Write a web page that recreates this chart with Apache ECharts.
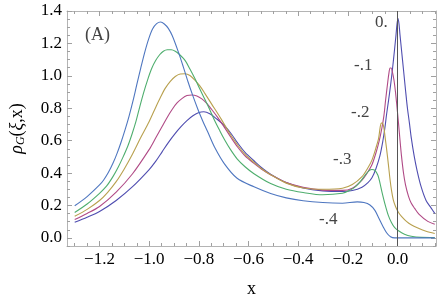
<!DOCTYPE html>
<html><head><meta charset="utf-8">
<script src="https://cdn.jsdelivr.net/npm/echarts@6/dist/echarts.min.js"></script>
<style>html,body{margin:0;padding:0;background:#fff}#c{width:443px;height:303px}</style>
</head><body><div id="c"></div>
<script>
// ---- data ----
const seriesNames = ['0.', '-.1', '-.2', '-.3', '-.4'];

// xi = 0
const x0 = [-1.30,-1.25,-1.20,-1.133,-1.067,-1.001,-0.974,-0.948,-0.923,-0.895,-0.871,-0.848,-0.824,-0.802,-0.780,-0.756,-0.729,-0.697,-0.669,-0.644,-0.614,-0.578,-0.547,-0.511,-0.448,-0.380,-0.301,-0.222,-0.182,-0.143,-0.119,-0.103,-0.087,-0.071,-0.059,-0.051,-0.044,-0.036,-0.028,-0.020,-0.012,-0.006,-0.002,0.002,0.006,0.010,0.016,0.024,0.032,0.040,0.048,0.055,0.067,0.079,0.095,0.115,0.135,0.15];
const y0 = [0.096,0.127,0.163,0.231,0.316,0.420,0.472,0.531,0.588,0.645,0.688,0.724,0.754,0.772,0.778,0.766,0.735,0.692,0.641,0.586,0.528,0.476,0.433,0.393,0.341,0.308,0.290,0.286,0.292,0.313,0.341,0.371,0.427,0.506,0.598,0.677,0.763,0.849,0.941,1.045,1.161,1.253,1.320,1.354,1.320,1.253,1.161,1.039,0.916,0.800,0.708,0.622,0.506,0.414,0.316,0.231,0.185,0.151];

// xi = -0.1
const x1 = [-1.30,-1.25,-1.20,-1.133,-1.067,-1.001,-0.974,-0.948,-0.927,-0.907,-0.887,-0.867,-0.848,-0.828,-0.808,-0.788,-0.768,-0.749,-0.725,-0.697,-0.669,-0.644,-0.614,-0.578,-0.547,-0.511,-0.448,-0.380,-0.301,-0.222,-0.182,-0.143,-0.119,-0.103,-0.087,-0.073,-0.063,-0.055,-0.048,-0.040,-0.034,-0.030,-0.026,-0.020,-0.014,-0.008,-0.002,0.004,0.010,0.016,0.024,0.032,0.044,0.055,0.069,0.087,0.122,0.15];
const y1 = [0.113,0.151,0.194,0.283,0.396,0.543,0.616,0.687,0.745,0.794,0.834,0.861,0.878,0.882,0.876,0.858,0.830,0.794,0.745,0.682,0.616,0.561,0.506,0.460,0.424,0.390,0.341,0.312,0.295,0.293,0.307,0.357,0.408,0.451,0.524,0.604,0.677,0.751,0.849,0.953,1.023,1.048,1.048,1.020,0.971,0.898,0.806,0.708,0.604,0.506,0.402,0.329,0.258,0.215,0.182,0.145,0.102,0.084];

// xi = -0.2
const x2 = [-1.30,-1.25,-1.20,-1.168,-1.133,-1.101,-1.067,-1.034,-1.001,-0.974,-0.954,-0.935,-0.915,-0.895,-0.875,-0.855,-0.836,-0.816,-0.796,-0.776,-0.749,-0.710,-0.677,-0.644,-0.614,-0.578,-0.547,-0.511,-0.448,-0.380,-0.301,-0.222,-0.182,-0.143,-0.119,-0.103,-0.087,-0.076,-0.070,-0.065,-0.061,-0.055,-0.050,-0.044,-0.037,-0.030,-0.024,-0.017,-0.008,0.004,0.016,0.036,0.055,0.082,0.115,0.15];
const y2 = [0.133,0.176,0.231,0.280,0.347,0.424,0.518,0.619,0.715,0.805,0.869,0.924,0.966,0.996,1.011,1.013,1.002,0.974,0.938,0.892,0.827,0.733,0.647,0.573,0.515,0.466,0.427,0.390,0.338,0.308,0.300,0.306,0.329,0.378,0.433,0.480,0.555,0.616,0.681,0.708,0.708,0.681,0.622,0.549,0.457,0.359,0.292,0.235,0.194,0.157,0.133,0.102,0.081,0.061,0.041,0.027];

// xi = -0.3
const x3 = [-1.30,-1.25,-1.20,-1.172,-1.146,-1.125,-1.105,-1.086,-1.069,-1.053,-1.038,-1.022,-1.006,-0.990,-0.974,-0.958,-0.943,-0.927,-0.911,-0.895,-0.879,-0.855,-0.836,-0.816,-0.796,-0.776,-0.756,-0.737,-0.717,-0.697,-0.673,-0.646,-0.614,-0.578,-0.511,-0.448,-0.380,-0.301,-0.222,-0.194,-0.169,-0.150,-0.130,-0.115,-0.103,-0.091,-0.079,-0.071,-0.063,-0.051,-0.037,-0.024,-0.012,0.004,0.028,0.055,0.095,0.15];
const y3 = [0.157,0.209,0.275,0.319,0.378,0.436,0.500,0.567,0.641,0.720,0.809,0.898,0.977,1.045,1.094,1.130,1.152,1.161,1.161,1.152,1.133,1.094,1.042,0.983,0.919,0.855,0.791,0.726,0.665,0.607,0.546,0.488,0.439,0.396,0.335,0.300,0.280,0.266,0.275,0.292,0.316,0.347,0.388,0.414,0.422,0.417,0.387,0.341,0.286,0.212,0.139,0.093,0.065,0.044,0.023,0.010,0.003,0.002];

// xi = -0.4
const x4 = [-1.30,-1.25,-1.20,-1.184,-1.164,-1.146,-1.129,-1.113,-1.097,-1.081,-1.065,-1.050,-1.034,-1.018,-1.002,-0.986,-0.970,-0.954,-0.939,-0.923,-0.907,-0.883,-0.863,-0.844,-0.824,-0.804,-0.784,-0.764,-0.737,-0.697,-0.646,-0.578,-0.511,-0.448,-0.380,-0.301,-0.222,-0.162,-0.135,-0.111,-0.091,-0.075,-0.059,-0.044,-0.028,-0.012,0.05,0.15];
const y4 = [0.198,0.255,0.327,0.356,0.405,0.460,0.523,0.592,0.668,0.752,0.847,0.945,1.048,1.145,1.228,1.290,1.322,1.332,1.320,1.293,1.247,1.149,1.057,0.965,0.876,0.794,0.720,0.653,0.561,0.457,0.368,0.315,0.274,0.247,0.229,0.218,0.214,0.222,0.218,0.203,0.170,0.121,0.072,0.032,0.007,0.0,0.0,0.0];

const xTicks = [-1.2,-1.0,-0.8,-0.6,-0.4,-0.2,0.0];
const yTicks = [0.0,0.2,0.4,0.6,0.8,1.0,1.2,1.4];

// ---- presentation ----
const XMIN = -1.331, XMAX = 0.155, YMIN = -0.05, YMAX = 1.4;
const colors = ['#4f4db0','#b04a86','#b8a04e','#4fae6e','#4f77c0'];
const xs = [x0,x1,x2,x3,x4], ys = [y0,y1,y2,y3,y4];
const FRAME = '#b4b4b4', TICK = '#a0a0a0';
const serif = '"Liberation Serif","Times New Roman",serif';

function minorVals(lo, hi, step){const r=[];for(let k=Math.ceil(lo/step-1e-9);k*step<=hi+1e-9;k++){r.push(+(k*step).toFixed(4));}return r;}
const xMinor = minorVals(XMIN, XMAX, 0.05);
const yMinor = minorVals(YMIN, YMAX, 0.05);
const fmt = v => (v < -1e-9 ? '\u2212' : '') + Math.abs(v).toFixed(1);

function xa(pos, major, labels){
  return {type:'value', min:XMIN, max:XMAX, position:pos,
    axisLine:{show:major, onZero:false, lineStyle:{color:FRAME, width:1}},
    axisTick:{show:true, inside:true, length: major?5:3, customValues: major?xTicks:xMinor, lineStyle:{color:TICK}},
    axisLabel:{show:labels, customValues:xTicks, formatter:fmt, fontFamily:serif, fontSize:17, color:'#000', margin:5},
    splitLine:{show:false},
    name: labels ? 'x' : '', nameLocation:'middle', nameGap:34,
    nameTextStyle:{fontFamily:serif, fontSize:18, color:'#000'}};
}
function ya(pos, major, labels){
  return {type:'value', min:YMIN, max:YMAX, position:pos,
    axisLine:{show:major, onZero:false, lineStyle:{color:FRAME, width:1}},
    axisTick:{show:true, inside:true, length: major?5:3, customValues: major?yTicks:yMinor, lineStyle:{color:TICK}},
    axisLabel:{show:labels, customValues:yTicks, formatter:v=>v.toFixed(1), fontFamily:serif, fontSize:17, color:'#000', margin:5},
    splitLine:{show:false},
    name: labels ? '{i|ρ}{s|G}{n|(}{i|ξ}{n|,x)}' : '', nameLocation:'middle', nameGap:40, nameRotate:90,
    nameTextStyle:{fontFamily:serif, fontSize:18, color:'#000',
      rich:{i:{fontFamily:serif, fontStyle:'italic', fontSize:18, color:'#000'},
            s:{fontFamily:serif, fontStyle:'italic', fontSize:12, color:'#000', verticalAlign:'bottom', padding:[8,0,0,0]},
            n:{fontFamily:serif, fontSize:18, color:'#000'}}}};
}

const series = xs.map((xx, s) => ({
  type:'line', name:seriesNames[s], xAxisIndex:0, yAxisIndex:0,
  data: xx.map((x,i)=>[x, ys[s][i]]),
  showSymbol:false, smooth:0.3, animation:false,
  lineStyle:{color:colors[s], width:1.1}, z:3
}));
series[0].markLine = {silent:true, symbol:'none', animation:false,
  label:{show:false}, lineStyle:{color:'#555', width:1, type:'solid'},
  data:[{xAxis:0}]};

const labelStyle = (t) => ({type:'text', style:{text:t, font:'17px '+serif, fill:'#444'}});
const graphic = [
  Object.assign({left:85, top:26}, {type:'text', style:{text:'(A)', font:'18px '+serif, fill:'#444'}}),
  Object.assign({left:375, top:14}, labelStyle('0.')),
  Object.assign({left:354, top:57}, labelStyle('-.1')),
  Object.assign({left:351, top:104}, labelStyle('-.2')),
  Object.assign({left:333, top:151}, labelStyle('-.3')),
  Object.assign({left:319, top:211}, labelStyle('-.4'))
];

const chart = echarts.init(document.getElementById('c'), null, {renderer:'canvas'});
chart.setOption({
  animation:false,
  backgroundColor:'#fff',
  grid:{left:60, right:7, top:11, bottom:55, containLabel:false},
  xAxis:[xa('bottom',true,true), xa('bottom',false,false), xa('top',true,false), xa('top',false,false)],
  yAxis:[ya('left',true,true), ya('left',false,false), ya('right',true,false), ya('right',false,false)],
  series: series,
  graphic: graphic
});
</script></body></html>
